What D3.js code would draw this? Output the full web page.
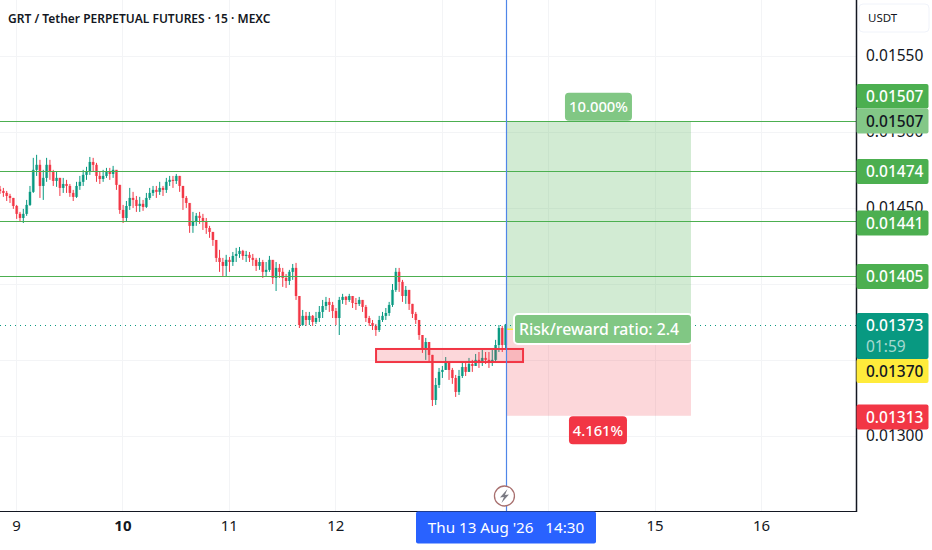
<!DOCTYPE html>
<html>
<head>
<meta charset="utf-8">
<script src="https://cdn.jsdelivr.net/npm/d3@7"></script>
<style>
html,body{margin:0;padding:0;background:#fff;overflow:hidden}
svg{display:block}
text{font-family:"Noto Sans",sans-serif}
</style>
</head>
<body>
<svg id="c" width="932" height="550"></svg>
<script>
// All prices in units of 0.00001 USDT
const title = "GRT / Tether PERPETUAL FUTURES · 15 · MEXC";
const currency = "USDT";
const firstBarDay = 8.85;
const barsPerDay = 32;
const closes = [
1461.1,1459.8,1457.8,1456.5,1451.2,1446,1443.3,1446,1451.9,1460.5,
1475,1478.3,1464.4,1469.7,1478.3,1473.6,1467.7,1469.7,1463.1,1465.7,
1464.4,1459.8,1457.2,1464.4,1467.1,1471.7,1473.6,1480.2,1478.3,1471,
1469,1471,1473.6,1472.3,1475,1465.1,1448.6,1443.3,1451.2,1456.5,
1455.2,1451.2,1452.6,1450.6,1456.5,1459.8,1461.8,1460.5,1463.1,1461.8,
1467.1,1468.4,1467.7,1471,1464.4,1456.5,1453.2,1438.1,1440.7,1444.7,
1443.3,1440.7,1436.7,1434.1,1428.8,1417,1414.3,1411.7,1415.7,1414.3,
1418.3,1419.6,1421.6,1418.3,1419,1417,1415.7,1411.7,1414.3,1407.8,
1409.1,1415.7,1403.8,1410.4,1407.8,1403.8,1401.8,1407.8,1410.4,1391.9,
1372.8,1378.8,1376.1,1378.8,1374.8,1377.4,1381.4,1385.3,1388,1386,
1382,1377.4,1389.3,1391.3,1389.3,1391.9,1387.3,1386.7,1389.3,1384.7,
1377.4,1374.1,1372.2,1369.5,1376.1,1378.8,1380.7,1386,1395.9,1407.8,
1401.2,1391.9,1395.9,1386.7,1380.1,1376.1,1366.2,1356.4,1361.6,1353.1,
1323.4,1333.3,1341.9,1343.2,1348.4,1343.2,1337.9,1328.7,1339.2,1345.1,
1341.9,1347.1,1345.8,1349.8,1348.4,1351.1,1349.8,1347.8,1349.8,1359.6,
1370.8,1359.6,1373];
const highs = [
1464.4,1463.1,1461.1,1459.2,1456.5,1451.9,1447.3,1449.3,1455.2,1464.4,
1482.9,1484.9,1481.6,1475,1482.9,1481.6,1475,1473.6,1469.7,1469.7,
1468.4,1465.7,1461.8,1467.1,1471,1475,1477,1483.5,1482.9,1479.6,
1473.6,1475,1476.3,1476.3,1477.6,1474.3,1465.1,1451.9,1454.5,1463.1,
1460.5,1457.8,1457.2,1455.2,1459.8,1463.1,1464.4,1464.4,1467.1,1464.4,
1469.7,1471,1471,1472.3,1471,1464.4,1457.8,1452.6,1447.3,1446.6,
1447.3,1446,1443.3,1438.1,1434.1,1428.8,1422.3,1417,1419,1417.6,
1420.9,1423.6,1424.2,1422.3,1421.6,1420.9,1419.6,1417,1417,1415.7,
1414.3,1418.3,1413,1414.3,1413,1410.4,1406.4,1409.1,1413,1413.7,
1391.9,1382.7,1381.4,1381.4,1379.4,1381.4,1385.3,1389.3,1391.3,1390.6,
1388,1384,1391.3,1393.3,1391.9,1393.3,1391.9,1390.6,1391.3,1389.3,
1386,1378.8,1376.1,1373.5,1378.8,1381.4,1384,1388,1399.8,1410.4,
1410.4,1402.5,1398.5,1395.9,1386.7,1381.4,1376.1,1364.3,1364.3,1359.6,
1353.1,1337.9,1344.5,1345.8,1351.7,1348.4,1344.5,1339.9,1343.2,1348.4,
1348.4,1351.1,1349.8,1353.7,1355,1356.4,1355,1355,1356.4,1363,
1372.8,1372.2,1373.5];
const lows = [
1459.2,1457.2,1454.5,1453.2,1449.3,1442.7,1440.7,1440,1444.7,1451.2,
1459.8,1471,1456.5,1455.2,1467.1,1468.4,1464.4,1463.8,1457.8,1459.8,
1459.8,1457.2,1454.5,1456.5,1461.8,1464.4,1468.4,1471.7,1473.6,1467.1,
1465.7,1467.1,1469.7,1468.4,1469.7,1461.8,1446,1440,1440.7,1448.6,
1449.9,1447.3,1447.3,1448,1449.9,1455.2,1457.8,1456.5,1458.5,1457.8,
1459.8,1464.4,1463.1,1465.7,1460.5,1448.6,1449.9,1433.5,1433.5,1438.1,
1439.4,1435.4,1432.8,1430.2,1424.9,1414.3,1407.8,1405.1,1404.5,1407.8,
1411.7,1414.3,1417,1415.7,1414.3,1414.3,1411.7,1408.4,1409.1,1403.8,
1405.1,1407.8,1399.8,1395.2,1403.8,1397.9,1397.2,1399.2,1402.5,1389.3,
1370.8,1372.2,1372.2,1372.8,1372.2,1373.5,1374.8,1377.4,1382.7,1381.4,
1377.4,1372.8,1366.2,1386.7,1386,1388,1384,1382.7,1385.3,1381.4,
1374.8,1372.2,1369.5,1365.6,1368.2,1374.8,1376.1,1378.8,1384.7,1394.6,
1394.6,1388,1386.7,1382.7,1377.4,1373.5,1363,1354.4,1349.8,1348.4,
1319.4,1320.1,1331.3,1337.9,1343.2,1336.6,1334,1325.4,1326.7,1337.9,
1339.2,1343.2,1341.9,1345.8,1344.5,1345.8,1347.1,1344.5,1345.8,1348.4,
1355,1355,1356.4];
const gridPrices = [1300,1350,1400,1450,1500,1550];
const priceTicks = [1300,1400,1450,1500,1550];
const gridDays = [9,10,11,12,13,14,15,16];
const dayTicks = [9,10,11,12,15,16];
const boldDays = [10];
const levels = [1507,1474,1441,1405];
const lastPrice = 1373;
const countdown = "01:59";
const entry = 1370, target = 1507, stop = 1313;
const positionDays = [13.613,15.342];
const zonePrices = [1348.4,1357];
const zoneDays = [12.383,13.764];
const crosshairDay = 13.613;
const crosshairLabel = "Thu 13 Aug '26   14:30";
const profitLabel = "10.000%", lossLabel = "4.161%", ratioLabel = "Risk/reward ratio: 2.4";

const fmt = p => (p/1e5).toFixed(5);
const GREEN="#4caf50", TEAL="#089981", RED="#f23645", YEL="#ffeb3b", BLUE="#2962ff";

const x = d3.scaleLinear().domain([9,16]).range([16,761]);
const y = d3.scaleLinear().domain([1300,1550]).range([435.5,56]);
const R = 856, B = 511;
const snap = v => Math.round(v)+.5;

const svg = d3.select("#c");
const root = svg.append("g");
const defs = svg.append("defs");
defs.append("clipPath").attr("id","pane").append("rect").attr("width",R).attr("height",B);
const pane = root.append("g").attr("clip-path","url(#pane)");

// grid
pane.append("g").selectAll("line").data(gridPrices).join("line")
  .attr("x1",0).attr("x2",R).attr("y1",d=>snap(y(d))).attr("y2",d=>snap(y(d)))
  .attr("stroke","#f3f4f6").attr("stroke-width",1);
pane.append("g").selectAll("line").data(gridDays).join("line")
  .attr("x1",d=>snap(x(d))).attr("x2",d=>snap(x(d))).attr("y1",0).attr("y2",B)
  .attr("stroke","#f3f4f6").attr("stroke-width",1);

// position zones
const px0=x(positionDays[0]), px1=x(positionDays[1]);
pane.append("rect").attr("x",px0).attr("width",px1-px0)
  .attr("y",y(target)).attr("height",y(entry)-y(target)).attr("fill",GREEN).attr("fill-opacity",.25);
pane.append("rect").attr("x",px0).attr("width",px1-px0)
  .attr("y",y(entry)).attr("height",y(stop)-y(entry)).attr("fill",RED).attr("fill-opacity",.2);

// candles
const bars = closes.map((c,i)=>({i,day:firstBarDay+i/barsPerDay,o:i?closes[i-1]:c+1,c,h:highs[i],l:lows[i]}));
const color = d=>d.c>=d.o?TEAL:RED;
const g = pane.append("g");
g.selectAll(".halo").data(bars).join("rect").attr("class","halo")
  .attr("x",d=>x(d.day)-1.6).attr("width",3.2)
  .attr("y",d=>y(Math.max(d.o,d.c))).attr("height",d=>Math.max(1,Math.abs(y(d.o)-y(d.c))))
  .attr("fill",color).attr("fill-opacity",.35);
g.selectAll(".wick").data(bars).join("line").attr("class","wick")
  .attr("x1",d=>x(d.day)).attr("x2",d=>x(d.day)).attr("y1",d=>y(d.h)).attr("y2",d=>y(d.l))
  .attr("stroke",color).attr("stroke-width",1);
g.selectAll(".body").data(bars).join("rect").attr("class","body")
  .attr("x",d=>x(d.day)-1).attr("width",2)
  .attr("y",d=>y(Math.max(d.o,d.c))).attr("height",d=>Math.max(1,Math.abs(y(d.o)-y(d.c))))
  .attr("fill",color);

// levels
pane.append("g").selectAll("line").data(levels).join("line")
  .attr("x1",0).attr("x2",R).attr("y1",d=>snap(y(d))).attr("y2",d=>snap(y(d)))
  .attr("stroke",GREEN).attr("stroke-width",1);

// last price line
pane.append("line").attr("x1",0).attr("x2",R).attr("y1",snap(y(lastPrice))).attr("y2",snap(y(lastPrice)))
  .attr("stroke",TEAL).attr("stroke-width",1).attr("stroke-dasharray","1 4");

// supply/demand box
pane.append("rect").attr("x",x(zoneDays[0])).attr("width",x(zoneDays[1])-x(zoneDays[0]))
  .attr("y",y(zonePrices[1])).attr("height",y(zonePrices[0])-y(zonePrices[1]))
  .attr("fill",RED).attr("fill-opacity",.2).attr("stroke",RED).attr("stroke-width",2);

// entry line
pane.append("line").attr("x1",px0).attr("x2",px1).attr("y1",y(entry)).attr("y2",y(entry))
  .attr("stroke",YEL).attr("stroke-width",1.5);

// crosshair
pane.append("line").attr("x1",snap(x(crosshairDay))-1).attr("x2",snap(x(crosshairDay))-1).attr("y1",0).attr("y2",B)
  .attr("stroke","#4f86e8").attr("stroke-width",1.2);

// position labels
function pill(cx,cyy,w,h,fill,txt,size,stroke,tx){
  const gg=pane.append("g");
  gg.append("rect").attr("x",cx-w/2).attr("y",cyy-h/2).attr("width",w).attr("height",h).attr("rx",4)
    .attr("fill",fill).attr("stroke",stroke||"none").attr("stroke-width",stroke?2:0);
  gg.append("text").attr("x",tx||cx).attr("y",cyy).attr("dy","0.36em").attr("text-anchor","middle")
    .attr("fill","#fff").attr("font-size",size).attr("font-weight",500).text(txt);
}
const pcx=(px0+px1)/2;
pill(pcx-0.5,y(target)-14.5,67,28,"#81c784",profitLabel,14.8);
pill(pcx-1,y(stop)+14.5,58,28,RED,lossLabel,14.8);
pill(603,329,178,30,"#81c784",ratioLabel,15.8,"#fff",599);

// lightning icon
const ic=svg.append("g").attr("transform",`translate(${x(crosshairDay)-2.5},496)`);
ic.append("circle").attr("r",10).attr("fill","#fff").attr("stroke","#a8706f").attr("stroke-width",1.3);
ic.append("path").attr("d","M3,-7 L-4.5,1.5 L-0.5,1 L-3,7 L4.5,-1.5 L0.5,-1 Z").attr("fill","#7b7b84");

// axes
const yAxis=d3.axisRight(y).tickValues(priceTicks).tickFormat(fmt).tickSize(0).tickPadding(10);
const ya=svg.append("g").attr("transform",`translate(${R},0)`).call(yAxis);
ya.select(".domain").remove();
ya.selectAll("text").attr("font-size",15.5).attr("fill","#131722").attr("font-family",'"Noto Sans",sans-serif');
const xAxis=d3.axisBottom(x).tickValues(dayTicks).tickFormat(d=>d).tickSize(0).tickPadding(9);
const xa=svg.append("g").attr("transform",`translate(0,${B})`).call(xAxis);
xa.select(".domain").remove();
xa.selectAll("text").attr("font-size",15).attr("fill","#131722")
  .attr("font-family",'"Noto Sans",sans-serif')
  .attr("font-weight",d=>boldDays.includes(d)?700:400);
svg.append("line").attr("x1",0).attr("x2",R).attr("y1",B+.5).attr("y2",B+.5).attr("stroke","#131722").attr("stroke-width",1.2);
svg.append("line").attr("x1",R+.5).attr("x2",R+.5).attr("y1",0).attr("y2",B+1).attr("stroke","#131722").attr("stroke-width",1.5);

// price tags
function tag(p,top,h,fill,tc){
  svg.append("rect").attr("x",R+.5).attr("y",top).attr("width",72).attr("height",h).attr("rx",2).attr("fill",fill);
  svg.append("text").attr("x",866).attr("y",top+12.5).attr("dy","0.36em").attr("font-size",15.5).attr("fill",tc)
    .attr("font-weight",500).text(fmt(p));
}
tag(target,84,24.5,GREEN,"#fff");
tag(target,108.5,25,"#83c787","#131722");
tag(levels[1],159,25,GREEN,"#fff");
tag(levels[2],210.5,25,GREEN,"#fff");
tag(levels[3],264,25,GREEN,"#fff");
tag(lastPrice,313,46,TEAL,"#fff");
svg.append("text").attr("x",866).attr("y",346).attr("dy","0.36em").attr("font-size",15.5).attr("fill","#fff").attr("fill-opacity",.65).text(countdown);
tag(entry,359,24,YEL,"#131722");
tag(stop,404.5,25,RED,"#fff");

// currency button
svg.append("rect").attr("x",859).attr("y",4).attr("width",70).attr("height",28).attr("rx",4)
  .attr("fill","#fff").attr("stroke","#f0f3fa").attr("stroke-width",1);
svg.append("text").attr("x",868).attr("y",18).attr("dy","0.36em").attr("font-size",11.5).attr("fill","#131722").text(currency);

// crosshair time label
svg.append("rect").attr("x",416).attr("y",511.5).attr("width",180).attr("height",32).attr("rx",2).attr("fill",BLUE);
svg.append("text").attr("x",506).attr("y",528).attr("dy","0.36em").attr("text-anchor","middle").attr("xml:space","preserve")
  .style("white-space","pre").attr("font-size",15.2).attr("fill","#fff").text(crosshairLabel);

// title
svg.append("text").attr("x",8).attr("y",18.5).attr("dy","0.36em").attr("font-size",12).attr("font-weight",600)
  .attr("fill","#131722").text(title);
</script>
</body>
</html>
